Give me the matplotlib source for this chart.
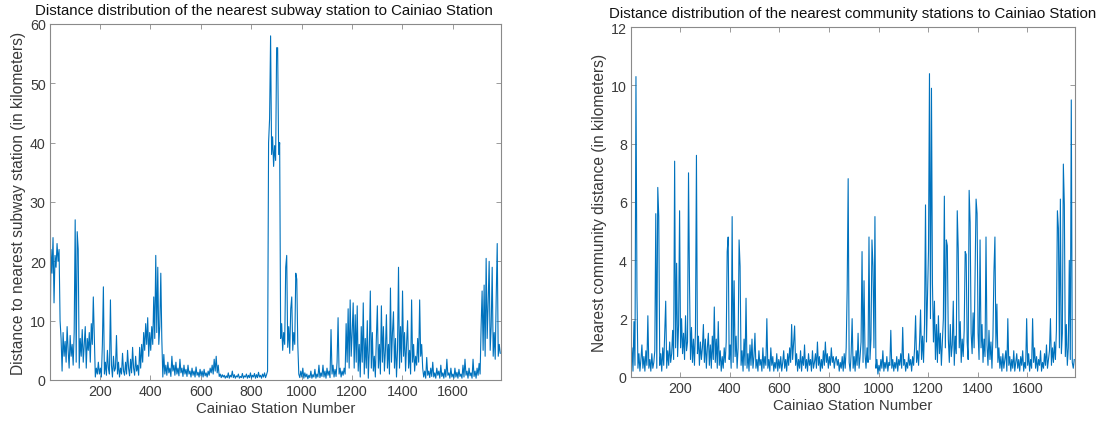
import matplotlib.pyplot as plt
import numpy as np

plt.rcParams['font.family'] = ['Liberation Sans', 'DejaVu Sans']

# values, one every 4th station (1, 5, 9, ...)
# nearest subway station distance (km), blocks of 200 stations
subway_0001 = [4.5, 22, 18, 24, 13, 21, 19, 23, 20, 22, 10, 7, 1.5, 8, 4, 6.5, 3, 9, 5, 2,
               7.5, 4, 6, 2.5, 8, 27, 3, 25, 22, 2, 7, 4, 8.5, 3, 6, 9, 2, 7, 5, 8,
               3, 9.5, 6, 14, 7, 0.5, 2, 1, 3, 1]
subway_0201 = [2, 0.5, 6, 15.7, 1, 3, 0.8, 5, 2, 1, 13.5, 2.5, 0.5, 4, 1.5, 2, 7.5, 1, 3, 0.5,
               2, 1, 4.5, 1.5, 0.8, 3, 1, 5, 2, 0.7, 3.5, 1.2, 5.5, 2, 0.8, 4, 1.5, 2.5, 0.8, 5.5,
               2, 6, 3, 8, 5, 9.5, 6, 10.5, 4, 8]
subway_0401 = [5, 9, 6, 14, 7, 21, 8, 19, 6, 9, 18, 7, 0.5, 4.3, 1, 2.5, 0.8, 3, 1.2, 2,
               0.6, 4, 1.5, 2.5, 0.8, 3, 1, 2, 0.7, 3.5, 1.2, 2, 0.6, 2.5, 1, 1.8, 0.6, 2.5, 1, 1.5,
               0.5, 2, 0.8, 1.5, 0.5, 2.2, 0.8, 1.3, 0.5, 1.8]
subway_0601 = [0.7, 1.5, 0.5, 1.8, 0.7, 1.2, 0.5, 1.5, 0.8, 2, 1.2, 2.5, 1, 3.5, 1.5, 4, 1.2, 2.5, 0.6, 1,
               0.4, 0.9, 0.5, 0.8, 0.3, 0.7, 0.4, 1.2, 0.3, 0.8, 0.5, 1.5, 0.4, 0.9, 0.3, 0.7, 0.5, 1, 0.3, 0.6,
               0.4, 1.1, 0.3, 0.7, 0.5, 1, 0.3, 0.8, 0.4, 1.2]
subway_0801 = [0.3, 0.8, 0.5, 1.1, 0.3, 0.9, 0.4, 1.3, 0.5, 0.8, 0.3, 1, 0.5, 1.2, 0.4, 0.9, 1.5, 40, 44, 58,
               38, 41, 36, 39.5, 37, 56, 56, 38, 40, 7, 9.5, 5, 8, 6, 19, 21, 5.5, 9, 4.5, 12,
               14, 5, 8, 6, 18, 17, 6, 1, 0.4, 1.5]
subway_1001 = [0.5, 2, 0.3, 1.2, 0.5, 1, 0.2, 0.8, 0.4, 1.5, 0.3, 0.9, 0.5, 1.8, 0.3, 1, 0.5, 2.5, 0.4, 1.2,
               0.6, 2.5, 0.5, 1.5, 0.3, 2, 0.8, 1.5, 0.4, 8.5, 1, 2.5, 0.5, 1.8, 0.6, 3, 10.5, 1, 2, 0.5,
               1.5, 0.8, 2, 1, 9.5, 3, 12, 2, 13.5, 4]
subway_1201 = [8, 13, 2, 11, 3, 12.5, 1.5, 6, 0.5, 9, 3, 13, 1, 7, 2, 10, 0.3, 5, 15, 2,
               8, 1.5, 4, 0.5, 7, 12.5, 2, 6, 1, 12.5, 3, 9, 1.5, 5, 11, 2, 6, 1, 15.5, 3,
               8, 11.5, 2, 7, 0.5, 5, 19, 2, 9, 3]
subway_1401 = [15, 4, 8, 1.5, 6, 10, 2, 5, 1, 13.5, 3, 6, 1.5, 4, 2.5, 7, 3, 13.5, 4, 6,
               2, 0.5, 1.5, 0.3, 3.8, 0.8, 1.5, 0.4, 2, 0.6, 3, 0.5, 1.2, 0.3, 2, 0.8, 1.5, 0.3, 2.5, 0.6,
               1.2, 0.3, 1.8, 0.5, 3.5, 0.8, 1.2, 0.3, 2, 0.5]
subway_1601 = [1, 0.3, 2, 0.5, 1.3, 0.3, 1.8, 0.6, 1, 0.3, 2.5, 0.5, 3.5, 0.8, 1.5, 0.3, 2, 0.7, 1.2, 0.3,
               3.5, 0.6, 1.5, 0.3, 2, 0.8, 2.8, 1, 9, 15, 5, 16, 4, 20.5, 7, 13, 20, 5, 9, 19,
               4, 8, 3.5, 14, 23, 4, 6, 4.5]

# nearest community station distance (km)
community_0001 = [0.5, 1.0, 0.2, 1.9, 0.4, 10.3, 2.9, 0.3, 0.8, 0.2, 0.6, 1.1, 0.3, 0.7, 0.2, 0.9, 0.4, 2.1, 0.3, 0.6,
                  0.2, 0.8, 0.3, 0.5, 0.9, 5.6, 0.3, 6.5, 5.5, 0.4, 0.8, 0.2, 1.0, 0.4, 1.5, 2.6, 0.3, 0.9, 0.4, 1.2,
                  0.5, 0.8, 1.6, 0.6, 7.4, 1.0, 3.9, 0.7, 1.8, 5.7]
community_0201 = [1.0, 2.0, 0.8, 1.5, 0.6, 2.1, 0.9, 1.2, 7.0, 3.2, 0.6, 1.7, 0.5, 1.3, 0.4, 1.6, 7.6, 0.8, 1.4, 0.4,
                  1.2, 0.6, 1.0, 1.8, 0.5, 1.3, 0.3, 1.0, 1.5, 0.4, 1.1, 0.3, 1.4, 0.6, 2.4, 0.5, 1.3, 0.3, 1.9, 0.4,
                  0.9, 0.2, 0.7, 0.3, 1.0, 0.5, 1.2, 4.3, 4.8, 0.6]
community_0401 = [1.1, 0.3, 5.5, 0.5, 3.3, 0.7, 1.4, 0.3, 1.0, 4.7, 3.8, 0.4, 0.9, 0.2, 1.3, 0.4, 2.7, 0.3, 0.8, 0.2,
                  1.1, 0.4, 1.3, 0.3, 0.7, 1.5, 0.3, 0.6, 0.2, 0.9, 0.4, 0.6, 0.2, 1.0, 0.3, 0.7, 0.4, 2.0, 0.3, 0.6,
                  0.2, 1.0, 0.4, 0.7, 0.2, 0.5, 0.3, 0.8, 0.2, 0.6]
community_0601 = [0.3, 0.7, 0.2, 0.5, 0.9, 0.3, 0.6, 0.2, 0.8, 0.4, 1.0, 0.5, 1.8, 0.6, 1.2, 1.75, 0.4, 0.8, 0.2, 0.6,
                  0.3, 0.9, 0.2, 0.7, 0.4, 1.1, 0.3, 0.6, 0.2, 0.8, 0.4, 0.6, 0.2, 0.9, 0.3, 0.5, 0.8, 0.3, 1.2, 0.4,
                  0.7, 0.2, 0.6, 0.3, 0.9, 0.4, 1.2, 0.5, 0.8, 0.3]
community_0801 = [0.7, 0.4, 1.0, 0.5, 0.7, 0.3, 0.6, 0.7, 0.4, 0.6, 0.2, 0.5, 0.3, 0.7, 0.2, 0.8, 0.3, 1.0, 3.0, 6.8,
                  0.5, 0.2, 0.8, 2.0, 0.3, 0.7, 0.2, 0.9, 0.4, 1.5, 0.3, 0.7, 1.2, 4.3, 0.5, 3.3, 0.8, 0.3, 1.0, 0.5,
                  4.8, 0.6, 1.3, 4.7, 3.8, 1.0, 5.5, 0.3, 0.6, 0.1]
community_1001 = [0.4, 0.2, 0.6, 0.3, 0.9, 0.2, 0.5, 0.3, 0.7, 0.2, 0.5, 0.4, 1.6, 0.3, 0.6, 0.2, 0.5, 0.3, 0.7, 0.2,
                  0.6, 0.4, 0.8, 0.3, 1.7, 0.4, 0.6, 0.2, 0.5, 0.3, 0.8, 0.4, 0.6, 0.2, 0.7, 0.4, 1.0, 2.1, 0.5, 0.9,
                  0.4, 1.2, 2.3, 0.6, 1.4, 0.5, 1.8, 5.9, 1.2, 2.7]
community_1201 = [4.3, 10.4, 2.0, 9.9, 3.2, 1.2, 2.6, 0.6, 1.8, 0.5, 2.1, 0.8, 1.5, 0.4, 1.2, 2.0, 6.2, 1.0, 4.7, 4.5,
                  1.3, 0.5, 1.8, 0.7, 1.1, 2.6, 0.4, 1.4, 0.8, 5.7, 4.4, 1.0, 1.9, 0.5, 1.3, 0.7, 1.6, 4.3, 4.2, 1.2,
                  0.6, 6.4, 5.3, 1.5, 0.8, 2.2, 1.0, 3.6, 6.1, 5.6]
community_1401 = [1.5, 0.6, 4.7, 1.0, 1.8, 0.5, 1.3, 0.7, 4.8, 1.1, 0.4, 1.6, 0.6, 1.2, 0.3, 1.4, 3.6, 4.8, 1.0, 2.5,
                  0.5, 1.0, 0.3, 0.7, 0.2, 0.8, 0.3, 0.6, 0.9, 0.2, 2.0, 0.4, 0.7, 0.2, 0.6, 0.3, 0.9, 0.2, 0.5, 0.8,
                  0.3, 0.6, 0.2, 0.7, 0.4, 0.9, 0.2, 0.5, 0.3, 2.0]
community_1601 = [0.4, 0.8, 0.2, 0.6, 0.3, 2.0, 0.5, 1.0, 0.3, 0.7, 0.2, 0.6, 0.4, 0.9, 0.2, 0.5, 0.3, 0.8, 0.4, 1.1,
                  0.3, 0.6, 0.9, 2.0, 0.4, 1.0, 0.5, 1.2, 0.6, 1.6, 5.7, 5.1, 1.0, 6.1, 0.8, 1.5, 7.3, 5.9, 0.7, 1.8,
                  0.4, 1.0, 4.0, 0.6, 9.5, 0.5, 0.3, 0.6]

subway = np.concatenate([subway_0001, subway_0201, subway_0401, subway_0601, subway_0801,
                         subway_1001, subway_1201, subway_1401, subway_1601])
community = np.concatenate([community_0001, community_0201, community_0401, community_0601, community_0801,
                            community_1001, community_1201, community_1401, community_1601])
station = np.arange(1, 4 * len(subway), 4)

blue = '#0072BD'
axis_grey = '#8a8a8a'
text_grey = '#3a3a3a'

fig = plt.figure(figsize=(11.02, 4.27), dpi=100)
ax1 = fig.add_axes([50/1102, 46/427, 451/1102, 356/427])
ax2 = fig.add_axes([631/1102, 49/427, 444/1102, 350/427])


def style(ax, y, ymax, title, ylabel, title_x=0.5):
    ax.plot(station, y, color=blue, lw=0.8)
    ax.set_xlim(1, 1792)
    ax.set_ylim(0, ymax)
    ax.set_xticks([200, 400, 600, 800, 1000, 1200, 1400, 1600])
    ax.set_title(title, fontsize=10.8, color='#111111', pad=7, x=title_x)
    ax.set_xlabel('Cainiao Station Number', fontsize=10.8, color=text_grey, labelpad=2)
    ax.set_ylabel(ylabel, fontsize=11.2, color=text_grey, labelpad=3)
    ax.tick_params(direction='in', top=True, right=True, length=3.5, width=0.6,
                   colors=axis_grey, labelcolor=text_grey, labelsize=10.3, pad=3)
    for s in ax.spines.values():
        s.set_color(axis_grey)
        s.set_linewidth(0.8)


style(ax1, subway, 60, 'Distance distribution of the nearest subway station to Cainiao Station',
      'Distance to nearest subway station (in kilometers)', title_x=0.475)
style(ax2, community, 12, 'Distance distribution of the nearest community stations to Cainiao Station',
      'Nearest community distance (in kilometers)')

fig.savefig('out.png', dpi=100)
